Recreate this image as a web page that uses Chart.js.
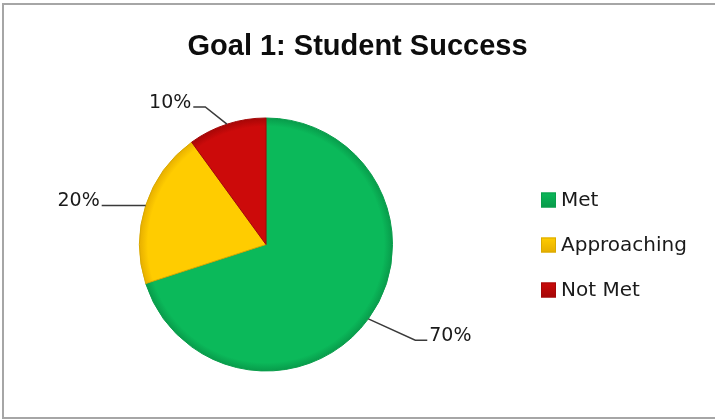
<!DOCTYPE html>
<html>
<head>
<meta charset="utf-8">
<title>Goal 1: Student Success</title>
<script src="https://cdn.jsdelivr.net/npm/chart.js@4.4.1/dist/chart.umd.min.js"></script>
<style>
  html, body { margin: 0; padding: 0; background: #ffffff; }
  canvas { display: block; }
</style>
</head>
<body>
<canvas id="goalChart" width="715" height="420"></canvas>
<script>
// Chart content
const chartTitle = 'Goal 1: Student Success';
const categories = ['Met', 'Approaching', 'Not Met'];
const shares = [70, 20, 10];

// Slice colours (base, rim shade, edge line)
const sliceColors = ['#0bb95a', '#ffcc00', '#cc0a0a'];
const rimColors = ['#089a4a', '#e6ae00', '#a50606'];
const edgeColors = ['#0a9e4c', '#d9a900', '#a30808'];

// Leader-line layout for each slice label, in units of the pie radius.
// elbow: bend point relative to the centre (null = on the rim), arm: horizontal run in px.
const leaderLayout = [
  { elbow: [1.18, 0.756], arm: 12 },
  { elbow: null, arm: -44 },
  { elbow: [-0.48, -1.087], arm: -12 }
];

const LABEL_FONT = '19px "DejaVu Sans", sans-serif';
const LEGEND_FONT = '20px "DejaVu Sans", sans-serif';

function pieGeometry(chart) {
  const a = chart.chartArea;
  return {
    x: (a.left + a.right) / 2,
    y: (a.top + a.bottom) / 2,
    r: Math.min(a.right - a.left, a.bottom - a.top) / 2
  };
}

function sliceFill(ctx) {
  const chart = ctx.chart;
  const i = ctx.dataIndex;
  if (!chart.chartArea || i === undefined) return sliceColors[i] || '#999';
  const g = pieGeometry(chart);
  const grad = chart.ctx.createRadialGradient(g.x, g.y, 0, g.x, g.y, g.r);
  grad.addColorStop(0, sliceColors[i]);
  grad.addColorStop(0.93, sliceColors[i]);
  grad.addColorStop(1, rimColors[i]);
  return grad;
}

// Frame, title, data labels and legend
const decorations = {
  id: 'decorations',
  beforeDraw(chart) {
    const c = chart.ctx;
    c.save();
    c.fillStyle = '#ffffff';
    c.fillRect(0, 0, chart.width, chart.height);
    c.strokeStyle = '#a6a6a6';
    c.lineWidth = 2;
    c.beginPath();
    c.moveTo(chart.width, 4);
    c.lineTo(3, 4);
    c.lineTo(3, chart.height - 2);
    c.lineTo(chart.width, chart.height - 2);
    c.stroke();
    c.restore();
  },
  afterDraw(chart) {
    const c = chart.ctx;
    const meta = chart.getDatasetMeta(0);
    const values = chart.data.datasets[0].data;

    // Title
    c.save();
    c.fillStyle = '#0d0d0d';
    c.font = 'bold 29px "Liberation Sans", Arial, sans-serif';
    c.textAlign = 'center';
    c.textBaseline = 'alphabetic';
    c.fillText(chartTitle, chart.width / 2, 55, 350);
    c.restore();

    // Percentage labels with leader lines
    c.save();
    c.font = LABEL_FONT;
    c.fillStyle = '#1a1a1a';
    c.strokeStyle = '#3a3a3a';
    c.lineWidth = 1.5;
    c.textBaseline = 'alphabetic';
    meta.data.forEach((arc, i) => {
      const p = arc.getProps(['x', 'y', 'startAngle', 'endAngle', 'outerRadius'], true);
      const mid = (p.startAngle + p.endAngle) / 2;
      const sx = p.x + Math.cos(mid) * p.outerRadius;
      const sy = p.y + Math.sin(mid) * p.outerRadius;
      const lay = leaderLayout[i];
      const ex = lay.elbow ? p.x + lay.elbow[0] * p.outerRadius : sx;
      const ey = lay.elbow ? p.y + lay.elbow[1] * p.outerRadius : sy;
      const tx = ex + lay.arm;
      c.beginPath();
      c.moveTo(sx, sy);
      c.lineTo(ex, ey);
      c.lineTo(tx, ey);
      c.stroke();
      c.textAlign = lay.arm >= 0 ? 'left' : 'right';
      c.fillText(values[i] + '%', tx + (lay.arm >= 0 ? 2 : -2), ey + 1);
    });
    c.restore();

    // Legend
    c.save();
    c.font = LEGEND_FONT;
    c.textBaseline = 'middle';
    c.textAlign = 'left';
    const lx = 541, ly0 = 200, step = 45, box = 15;
    chart.data.labels.forEach((label, i) => {
      const cy = ly0 + i * step;
      const grad = c.createLinearGradient(lx, cy - box / 2, lx, cy + box / 2);
      grad.addColorStop(0, sliceColors[i]);
      grad.addColorStop(1, rimColors[i]);
      c.fillStyle = grad;
      c.fillRect(lx, cy - box / 2, box, box);
      c.strokeStyle = edgeColors[i];
      c.lineWidth = 1;
      c.strokeRect(lx + 0.5, cy - box / 2 + 0.5, box - 1, box - 1);
      c.fillStyle = '#1a1a1a';
      c.fillText(label, lx + box + 5, cy + 1);
    });
    c.restore();
  }
};

new Chart(document.getElementById('goalChart'), {
  type: 'pie',
  data: {
    labels: categories,
    datasets: [{
      data: shares,
      backgroundColor: sliceFill,
      borderColor: edgeColors,
      borderWidth: 1
    }]
  },
  options: {
    responsive: false,
    animation: false,
    rotation: 0,
    layout: { padding: { left: 139, top: 117, right: 322, bottom: 48 } },
    plugins: {
      legend: { display: false },
      title: { display: false },
      tooltip: { enabled: false }
    }
  },
  plugins: [decorations]
});
</script>
</body>
</html>
